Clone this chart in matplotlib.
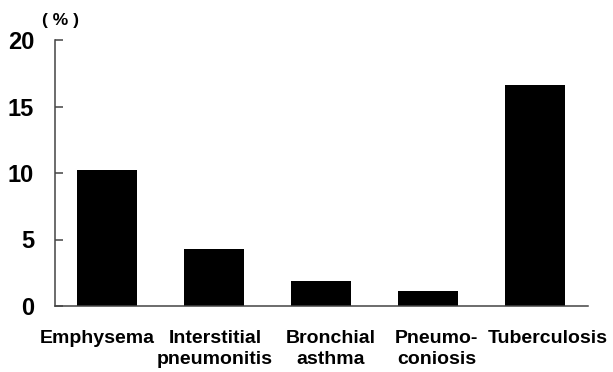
import numpy as np
import matplotlib.pyplot as plt
from matplotlib.transforms import ScaledTranslation

plt.rcParams['font.family'] = ['Liberation Sans', 'DejaVu Sans']

diseases = ['Emphysema', 'Interstitial\npneumonitis', 'Bronchial\nasthma',
            'Pneumo-\nconiosis', 'Tuberculosis']
percent = [10.2, 4.3, 1.85, 1.15, 16.6]
yticks = [0, 5, 10, 15, 20]

fig = plt.figure(figsize=(6.13, 3.72), dpi=100)
ax = fig.add_axes([55 / 613, 1 - 306 / 372, 533 / 613, 266 / 372])

x = np.arange(len(diseases))
ax.bar(x, percent, width=0.56, color='black')

ax.set_xlim(-0.49, 4.5)
ax.set_ylim(0, 20)
ax.set_yticks(yticks)
ax.set_yticklabels([str(t) for t in yticks], fontsize=17, fontweight='bold')
ax.set_xticks(x)
ax.set_xticklabels([])

# the printed labels sit a little off the bar centres (pixel shifts)
shifts = [-10, 1, 10, 9, 13]
for xi, name, dx in zip(x, diseases, shifts):
    tr = ax.get_xaxis_transform() + ScaledTranslation(dx / 100, -0.24, fig.dpi_scale_trans)
    ax.text(xi, 0, name, transform=tr, ha='center', va='top', fontsize=14,
            fontweight='bold', linespacing=1.3)

for s in ['top', 'right']:
    ax.spines[s].set_visible(False)
for s in ['left', 'bottom']:
    ax.spines[s].set_color('#444444')
    ax.spines[s].set_linewidth(1.1)

ax.tick_params(axis='y', direction='in', length=6, width=1.1, color='#444444', pad=15)
ax.tick_params(axis='x', length=0)

ax.text(0.01, 1.045, '( % )', transform=ax.transAxes, fontsize=12.5, fontweight='bold',
        ha='center', va='bottom')

fig.savefig('out.png', dpi=100)
